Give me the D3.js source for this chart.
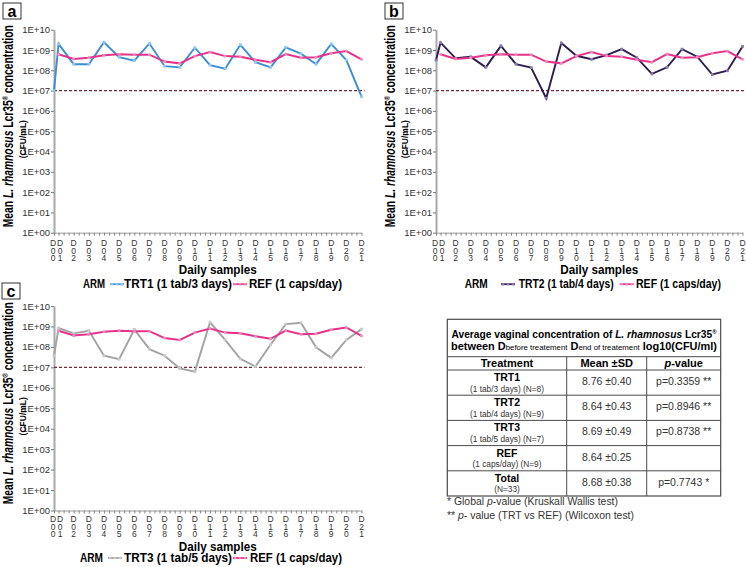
<!DOCTYPE html>
<html>
<head>
<meta charset="utf-8">
<script src="https://cdn.jsdelivr.net/npm/d3@7"></script>
<style>
  body { margin: 0; background: #fff; }
  text { font-family: "Liberation Sans", Arial, sans-serif; }
</style>
</head>
<body>
<div id="chart"></div>
<script>
// sampling days (D00 = before treatment, drawn just left of D01)
var days = ["D00","D01","D02","D03","D04","D05","D06","D07","D08","D09","D10",
            "D11","D12","D13","D14","D15","D16","D17","D18","D19","D20","D21"];
var dayPos = [0.7,1,2,3,4,5,6,7,8,9,10,11,12,13,14,15,16,17,18,19,20,21];

// mean concentrations, CFU/mL
var trt1 = [1.0e7,2.0e9,2.0e8,2.0e8,2.4e9,4.4e8,3.0e8,2.1e9,1.6e8,1.4e8,1.3e9,
            1.8e8,1.2e8,1.8e9,2.5e8,1.4e8,1.35e9,6.6e8,2.0e8,2.0e9,3.2e8,5.0e6];
var trt2 = [3.2e8,2.3e9,3.9e8,4.6e8,1.4e8,1.6e9,2.0e8,1.35e8,4.2e6,2.2e9,5.2e8,
            3.5e8,5.6e8,1.1e9,4.2e8,6.6e7,1.4e8,1.1e9,4.7e8,6.2e7,9.5e7,1.5e9];
var trt3 = [3.7e7,8.3e8,4.6e8,6.2e8,3.7e7,2.5e7,7.1e8,7.8e7,3.7e7,8.9e6,6.2e6,
            1.6e9,2.2e8,2.6e7,1.1e7,1.3e8,1.3e9,1.5e9,9.5e7,2.9e7,2.2e8,7.4e8];
var ref  = [null,6.2e8,3.6e8,4.2e8,5.5e8,6.2e8,5.9e8,5.9e8,2.7e8,2.2e8,5.0e8,
            7.9e8,5.0e8,4.7e8,3.3e8,2.5e8,6.3e8,4.2e8,4.4e8,6.9e8,8.9e8,3.5e8];
var threshold = 1e7;
var yTicks = [1,1e1,1e2,1e3,1e4,1e5,1e6,1e7,1e8,1e9,1e10];

// table
var tabNames = ["TRT1","TRT2","TRT3","REF","Total"];
var tabSub = ["(1 tab/3 days) (N=8)","(1 tab/4 days) (N=9)","(1 tab/5 days) (N=7)","(1 caps/day) (N=9)","(N=33)"];
var tabMean = ["8.76 \u00b10.40","8.64 \u00b10.43","8.69 \u00b10.49","8.64 \u00b10.25","8.68 \u00b10.38"];
var tabP = ["p=0.3359 **","p=0.8946 **","p=0.8738 **","","p=0.7743 *"];

var refName = "REF (1 caps/day)";
var refColor = "#e5338a", refMark = "#f48abd";

var svg = d3.select("#chart").append("svg")
    .attr("width", 746).attr("height", 567);

var panels = [
  {id:"a", left:54, right:361.5, top:29.7, bottom:232.7, data:trt1, name:"TRT1 (1 tab/3 days)",
   color:"#3a8ed2", mark:"#92c8ef", box:[3,3], lab:10.5, ttl:41.5, leg:55.5,
   lg:{arm:29, armW:22, l1:56, t1:70, w1:108, l2:179, t2:195, w2:93}},
  {id:"b", left:436, right:742.5, top:29.7, bottom:232.7, data:trt2, name:"TRT2 (1 tab/4 days)",
   color:"#2e1d4e", mark:"#8a78b0", box:[385,3], lab:10.5, ttl:41.5, leg:55.5,
   lg:{arm:28.7, armW:23, l1:65, t1:82.7, w1:95, l2:183.7, t2:200, w2:85}},
  {id:"c", left:54, right:361.5, top:306, bottom:510.5, data:trt3, name:"TRT3 (1 tab/5 days)",
   color:"#a2a2a2", mark:"#c9c9c9", box:[2,283], lab:8.5, ttl:40, leg:51.5,
   lg:{arm:26, armW:23, l1:54, t1:70, w1:108, l2:179, t2:196, w2:92}}
];

panels.forEach(function(p) {
  var x = d3.scaleLinear()
      .domain([dayPos[0], dayPos[dayPos.length - 1]])
      .range([p.left, p.right]);
  var y = d3.scaleLog()
      .domain([1, 1e10])
      .range([p.bottom, p.top]);
  var g = svg.append("g");

  // panel letter
  g.append("rect").attr("x", p.box[0]).attr("y", p.box[1])
      .attr("width", 18).attr("height", 16)
      .attr("fill", "#fff").attr("stroke", "#333").attr("stroke-width", 1);
  g.append("text").attr("x", p.box[0] + 9).attr("y", p.box[1] + 13.5)
      .attr("text-anchor", "middle").style("font-size", "16px").style("font-weight", "bold")
      .text(p.id);

  // Y axis
  var ya = g.append("g").attr("transform", "translate(" + p.left + ",0)")
      .call(d3.axisLeft(y).tickValues(yTicks).tickSize(3).tickSizeOuter(0).tickPadding(1)
        .tickFormat(function(d) { return "1E+" + String(Math.round(Math.log10(d))).padStart(2, "0"); }));
  ya.select(".domain").attr("stroke", "#a9a9a9").attr("stroke-width", 2);
  ya.selectAll(".tick line").attr("stroke", "#777");
  ya.selectAll(".tick text").attr("fill", "#333").style("font-size", "9.5px")
      .style("font-family", "'Liberation Sans', Arial, sans-serif");

  // X axis: minor ticks + tick per day
  var xa = g.append("g").attr("transform", "translate(0," + p.bottom + ")")
      .call(d3.axisBottom(x).tickValues(d3.range(1, 21.01, 1/3).concat([dayPos[0]]))
        .tickSize(3).tickSizeOuter(0).tickFormat(""));
  xa.select(".domain").attr("stroke", "#9a9a9a");
  xa.selectAll(".tick line").attr("stroke", "#888");

  // stacked day labels, one character per line
  days.forEach(function(d, i) {
    d.split("").forEach(function(ch, k) {
      g.append("text")
        .attr("x", x(dayPos[i]) + (i === 0 ? -1 : (i === 1 ? 1.5 : 0)))
        .attr("y", p.bottom + p.lab + 3 + k * 7.5)
        .attr("text-anchor", "middle")
        .attr("fill", "#333")
        .style("font-size", "8.5px")
        .text(ch);
    });
  });

  // axis titles
  g.append("text").attr("x", (p.left + p.right) / 2 + 10).attr("y", p.bottom + p.ttl)
      .attr("text-anchor", "middle").style("font-size", "13px").style("font-weight", "bold")
      .attr("textLength", 78).attr("lengthAdjust", "spacingAndGlyphs")
      .text("Daily samples");

  var midY = (p.top + p.bottom) / 2;
  var yt = g.append("text")
      .attr("transform", "translate(" + (p.left - 41) + "," + (midY - 5) + ") rotate(-90)")
      .attr("text-anchor", "middle").style("font-size", "14px").style("font-weight", "bold")
      .attr("textLength", 202).attr("lengthAdjust", "spacingAndGlyphs");
  yt.append("tspan").text("Mean ");
  yt.append("tspan").style("font-style", "italic").text("L. rhamnosus");
  yt.append("tspan").text(" Lcr35");
  yt.append("tspan").attr("dy", -5).style("font-size", "8px").text("\u00ae");
  yt.append("tspan").attr("dy", 5).text(" concentration");
  g.append("text")
      .attr("transform", "translate(" + (p.left - 28) + "," + (midY + 8) + ") rotate(-90)")
      .attr("text-anchor", "middle").style("font-size", "8.5px").style("font-weight", "bold")
      .text("(CFU/mL)");

  // 1E+07 threshold
  g.append("line")
      .attr("x1", p.left).attr("x2", p.right + 3)
      .attr("y1", y(threshold)).attr("y2", y(threshold))
      .attr("stroke", "#7b2a35").attr("stroke-width", 1.2).attr("stroke-dasharray", "3,2");

  var line = d3.line()
      .defined(function(d) { return d.v != null; })
      .x(function(d) { return x(d.t); })
      .y(function(d) { return y(d.v); });

  var trtPts = p.data.map(function(v, i) { return {t: dayPos[i], v: v}; });
  var refPts = ref.map(function(v, i) { return {t: dayPos[i], v: v}; });

  // treatment arm
  g.append("path").datum(trtPts).attr("d", line)
      .attr("fill", "none").attr("stroke", p.color).attr("stroke-width", 1.9);
  g.selectAll(".tm").data(trtPts).enter().append("rect")
      .attr("x", function(d) { return x(d.t) - 1.4; })
      .attr("y", function(d) { return y(d.v) - 1.4; })
      .attr("width", 2.8).attr("height", 2.8).attr("fill", p.mark);

  // reference arm
  g.append("path").datum(refPts).attr("d", line)
      .attr("fill", "none").attr("stroke", refColor).attr("stroke-width", 2);
  g.selectAll(".rm").data(refPts.filter(function(d) { return d.v != null; })).enter().append("circle")
      .attr("cx", function(d) { return x(d.t); })
      .attr("cy", function(d) { return y(d.v); })
      .attr("r", 1.5).attr("fill", refMark);

  // legend
  var ly = p.bottom + p.leg;
  var L = p.lg;
  g.append("text").attr("x", p.left + L.arm).attr("y", ly)
      .style("font-size", "12px").style("font-weight", "bold")
      .attr("textLength", L.armW).attr("lengthAdjust", "spacingAndGlyphs").text("ARM");
  [[L.l1, p.color, p.mark], [L.l2, refColor, refMark]].forEach(function(s) {
    var x0 = p.left + s[0];
    g.append("line").attr("x1", x0).attr("x2", x0 + 14).attr("y1", ly - 4).attr("y2", ly - 4)
        .attr("stroke", s[1]).attr("stroke-width", 1.8);
    [2, 7, 12].forEach(function(o) {
      g.append("circle").attr("cx", x0 + o).attr("cy", ly - 4).attr("r", 1.3).attr("fill", s[2]);
    });
  });
  g.append("text").attr("x", p.left + L.t1).attr("y", ly)
      .style("font-size", "12px").style("font-weight", "bold")
      .attr("textLength", L.w1).attr("lengthAdjust", "spacingAndGlyphs").text(p.name);
  g.append("text").attr("x", p.left + L.t2).attr("y", ly)
      .style("font-size", "12px").style("font-weight", "bold")
      .attr("textLength", L.w2).attr("lengthAdjust", "spacingAndGlyphs").text(refName);
});

// ---- summary table ----
var colX = [447.3, 566.7, 646.7, 720.7];
var tTop = 319.3, tTitleB = 356.7, tHeadB = 370, rowH = 25.2;
var tBot = tHeadB + rowH * tabNames.length;
var tg = svg.append("g");
var stroke = "#4a4a4a";

tg.append("rect").attr("x", colX[0]).attr("y", tTop)
    .attr("width", colX[3] - colX[0]).attr("height", tBot - tTop)
    .attr("fill", "#fff").attr("stroke", stroke).attr("stroke-width", 1.2);
[tTitleB, tHeadB].concat(tabNames.map(function(d, i) { return tHeadB + rowH * i; }).slice(1))
  .forEach(function(yy) {
    tg.append("line").attr("x1", colX[0]).attr("x2", colX[3]).attr("y1", yy).attr("y2", yy)
      .attr("stroke", stroke).attr("stroke-width", 1);
  });
[colX[1], colX[2]].forEach(function(xx) {
  tg.append("line").attr("x1", xx).attr("x2", xx).attr("y1", tTitleB).attr("y2", tBot)
    .attr("stroke", stroke).attr("stroke-width", 1);
});

var cx = (colX[0] + colX[3]) / 2;
var t1 = tg.append("text").attr("x", cx).attr("y", 337.5).attr("text-anchor", "middle")
    .style("font-size", "10.5px").style("font-weight", "bold")
    .attr("textLength", 265).attr("lengthAdjust", "spacingAndGlyphs");
t1.append("tspan").text("Average vaginal concentration of ");
t1.append("tspan").style("font-style", "italic").text("L. rhamnosus");
t1.append("tspan").text(" Lcr35");
t1.append("tspan").attr("dy", -4).style("font-size", "6px").text("\u00ae");
var t2 = tg.append("text").attr("x", cx).attr("y", 350).attr("text-anchor", "middle")
    .style("font-size", "10.5px").style("font-weight", "bold")
    .attr("textLength", 266).attr("lengthAdjust", "spacingAndGlyphs");
t2.append("tspan").text("between D");
t2.append("tspan").style("font-size", "7.5px").style("font-weight", "normal").text("before treatement");
t2.append("tspan").text(" D");
t2.append("tspan").style("font-size", "7.5px").style("font-weight", "normal").text("end of treatement");
t2.append("tspan").text(" log10(CFU/ml)");

var colMid = [(colX[0] + colX[1]) / 2, (colX[1] + colX[2]) / 2, (colX[2] + colX[3]) / 2];
tg.append("text").attr("x", colMid[0]).attr("y", 366.8).attr("text-anchor", "middle")
    .style("font-size", "11px").style("font-weight", "bold").text("Treatment");
tg.append("text").attr("x", colMid[1]).attr("y", 366.8).attr("text-anchor", "middle")
    .style("font-size", "11px").style("font-weight", "bold").text("Mean \u00b1SD");
var ph = tg.append("text").attr("x", colMid[2]).attr("y", 366.8).attr("text-anchor", "middle")
    .style("font-size", "11px").style("font-weight", "bold");
ph.append("tspan").style("font-style", "italic").text("p");
ph.append("tspan").text("-value");

tabNames.forEach(function(n, i) {
  var top = tHeadB + rowH * i;
  tg.append("text").attr("x", colMid[0]).attr("y", top + 11).attr("text-anchor", "middle")
      .style("font-size", "10.5px").style("font-weight", "bold").text(n);
  tg.append("text").attr("x", colMid[0]).attr("y", top + 21.5).attr("text-anchor", "middle")
      .attr("fill", "#333").style("font-size", "8.3px").text(tabSub[i]);
  tg.append("text").attr("x", colMid[1]).attr("y", top + 15).attr("text-anchor", "middle")
      .attr("fill", "#333").style("font-size", "10.5px").text(tabMean[i]);
  tg.append("text").attr("x", colMid[2]).attr("y", top + 15).attr("text-anchor", "middle")
      .attr("fill", "#333").style("font-size", "10.5px").text(tabP[i]);
});

var f1 = tg.append("text").attr("x", 447).attr("y", 505).attr("fill", "#333")
    .style("font-size", "10px").attr("textLength", 171).attr("lengthAdjust", "spacingAndGlyphs");
f1.append("tspan").text("* Global ");
f1.append("tspan").style("font-style", "italic").text("p");
f1.append("tspan").text("-value (Kruskall Wallis test)");
var f2 = tg.append("text").attr("x", 447).attr("y", 518.5).attr("fill", "#333")
    .style("font-size", "10px").attr("textLength", 187).attr("lengthAdjust", "spacingAndGlyphs");
f2.append("tspan").text("** ");
f2.append("tspan").style("font-style", "italic").text("p");
f2.append("tspan").text("- value (TRT vs REF) (Wilcoxon test)");
</script>
</body>
</html>
